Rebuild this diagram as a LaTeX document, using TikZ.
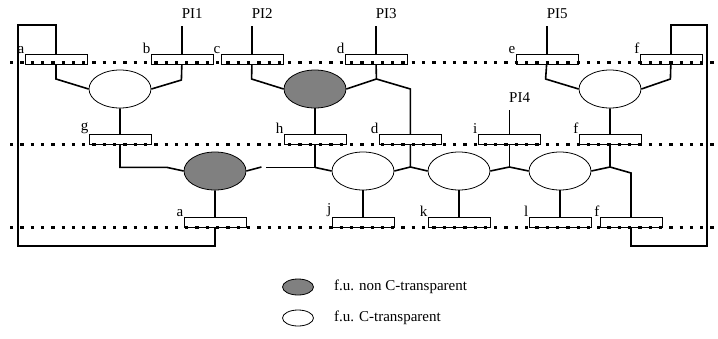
\documentclass[tikz,border=0pt]{standalone}
\usepackage{fontspec}
\setmainfont{Liberation Serif}
\usetikzlibrary{shapes.geometric,positioning,backgrounds}

\begin{document}
\begin{tikzpicture}[x=1pt,y=-1pt,
    font=\fontsize{15}{18}\selectfont,
    wire/.style={line width=1.6pt},
    reg/.style={draw,fill=white,line width=0.8pt,minimum width=62pt,
      minimum height=10pt,inner sep=0pt,label distance=0pt},
    fu/.style={draw,ellipse,fill=white,line width=0.8pt,minimum width=62pt,
      minimum height=38pt,inner sep=0pt},
    nontr/.style={fu,fill=gray},
    bus/.style={line width=3pt,dash pattern=on 3.3pt off 7pt},
    pin/.style={anchor=south west,inner sep=0pt,xshift=-1pt,yshift=7pt},
    every label/.style={inner sep=0pt,anchor=south east}]
  \useasboundingbox (0,0) rectangle (718,338);
  \coordinate (tl) at (18,25);
  \coordinate (bl) at (18,246);
  \coordinate (tr) at (707,25);
  \coordinate (br) at (707,246);
  \node[fu] (u1) at (120,89) {};
  \node[nontr] (u2) at (315,89) {};
  \node[fu] (u3) at (610,89) {};
  \node[nontr] (u4) at (215,171) {};
  \node[fu] (u5) at (363,171) {};
  \node[fu] (u6) at (459,171) {};
  \node[fu] (u7) at (560,171) {};
  \node[reg,label={[anchor=south east]north west:a}] (ra1) at (56,59) {};
  \node[reg,label={[anchor=south east]north west:b}] (rb) at (182,59) {};
  \node[reg,label={[anchor=south east]north west:c}] (rc) at (252,59) {};
  \node[reg,label={[anchor=south east]north west:d}] (rd1) at (376,59) {};
  \node[reg,label={[anchor=south east]north west:e}] (re) at (547,59) {};
  \node[reg,label={[anchor=south east]north west:f}] (rf1) at (671,59) {};
  \node[reg,label={[anchor=south east]north west:g}] (rg) at (120,139) {};
  \node[reg,label={[anchor=south east]north west:h}] (rh) at (315,139) {};
  \node[reg,label={[anchor=south east]north west:d}] (rd2) at (410,139) {};
  \node[reg,label={[anchor=south east]north west:i}] (ri) at (509,139) {};
  \node[reg,label={[anchor=south east]north west:f}] (rf2) at (610,139) {};
  \node[reg,label={[anchor=south east]north west:a}] (ra2) at (215,222) {};
  \node[reg,label={[anchor=south east]north west:j}] (rj) at (363,222) {};
  \node[reg,label={[anchor=south east]north west:k}] (rk) at (459,222) {};
  \node[reg,label={[anchor=south east]north west:l}] (rl) at (560,222) {};
  \node[reg,label={[anchor=south east]north west:f}] (rf3) at (631,222) {};
  \begin{scope}[on background layer]
    \draw[wire] (u4.south) |- (bl) -- (tl) -| (ra1.center) -- ++(0,20) -- (u1.west);
    \draw[wire] (u1.east) -- ++(30,-9) -- (rb.center) -- ++(0,-33) node[pin] (pi1) {PI1};
    \draw[wire] (u2.west) -- ++(-32,-10) -- (rc.center) -- ++(0,-33) node[pin] (pi2) {PI2};
    \draw[wire] (u2.east) -- ++(30,-10) coordinate (j3) -- (rd1.center) -- ++(0,-33) node[pin] (pi3) {PI3};
    \draw[wire] (j3) -- ++(34,10) -- ++(0,78) coordinate (j5) -- (u5.east);
    \draw[wire] (j5) -- (u6.west);
    \draw[wire] (u3.west) -- ++(-33,-10) -- (re.center) -- ++(0,-33) node[pin] (pi5) {PI5};
    \draw[wire] (u3.east) -- ++(29,-10) -- (rf1.center) |- (tr) -- (br) -| (rf3.center)
      -- ++(0,-49) -- ++(-21,-6) coordinate (j7) -- (u3.south);
    \draw[wire] (j7) -- (u7.east);
    \draw[wire] (u1.south) -- ++(0,59) -- ++(47,0) -- (u4.west);
    \draw[wire] (u4.east) -- ++(15,-4);
    \draw[wire] (u2.south) -- ++(0,59) coordinate (j4) -- ++(-49,0);
    \draw[wire] (j4) -- (u5.west);
    \draw[wire] (u6.east) -- ++(19,-4) coordinate (j6) -- (u7.west);
    \draw[wire] (j6) -- ++(0,-57) node[pin] (pi4) {PI4};
    \draw[wire] (u5.south) -- (rj.center);
    \draw[wire] (u6.south) -- (rk.center);
    \draw[wire] (u7.south) -- (rl.center);
  \end{scope}
  \foreach \y in {62,144,227}
    \draw[bus] (10,\y) -- (718,\y);
  \node[nontr,minimum width=31pt,minimum height=16pt] (key1) at (298,287) {};
  \node[fu,minimum width=31pt,minimum height=16pt] (key2) at (298,318) {};
  \node[right=20pt of key1,inner sep=0pt] (txt1) {f.u. non C-transparent};
  \node[right=20pt of key2,inner sep=0pt] (txt2) {f.u. C-transparent};
\end{tikzpicture}
\end{document}
